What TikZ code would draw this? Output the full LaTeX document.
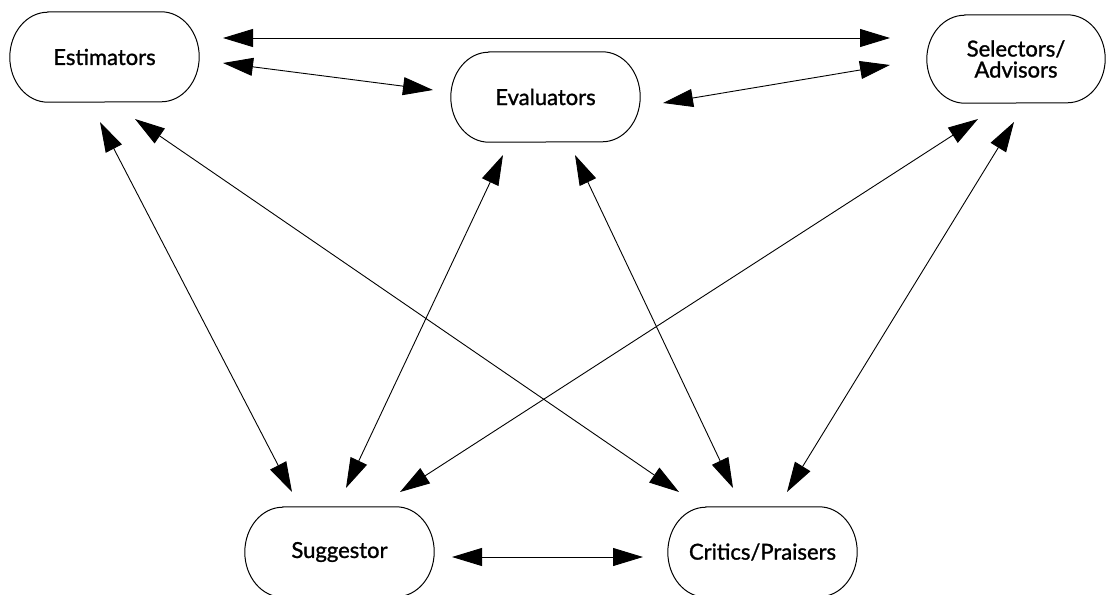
\documentclass[tikz,border=0pt]{standalone}
\usepackage{fontspec}
\setmainfont{Lato}[FakeBold=1.2]
\usetikzlibrary{arrows.meta}

% capsule outline around a named node: elliptical ends of radii #2 x #3
\newcommand\capsule[3]{%
  \draw[boxline] ([xshift=#2]#1.north west) -- ([xshift=-#2]#1.north east)
    arc[start angle=90, end angle=-90, x radius=#2, y radius=#3]
    -- ([xshift=#2]#1.south west)
    arc[start angle=270, end angle=90, x radius=#2, y radius=#3] -- cycle;}

\begin{document}
\begin{tikzpicture}[x=1pt, y=-1pt,
  role/.style={inner sep=0pt, minimum width=189pt, minimum height=90pt,
    align=center, font=\fontsize{22}{21}\selectfont},
  boxline/.style={line width=1pt, black},
  link/.style={line width=0.9pt,
    {Triangle[length=30pt,width=18pt]}-{Triangle[length=30pt,width=18pt]}}]

\useasboundingbox (0,0) rectangle (1107,594);

% roles
\node[role] (est) at (104.5,57) {Estimators};
\node[role] (eva) at (545.5,97) {Evaluators};
\node[role, minimum width=178pt, minimum height=88pt] (sel) at (1016,59) {Selectors/\\Advisors};
\node[role] (sug) at (339.5,552) {Suggestor};
\node[role] (cri) at (762.5,552) {Critics/Praisers};

\capsule{est}{38pt}{45pt}
\capsule{eva}{38pt}{45pt}
\capsule{sel}{38pt}{44pt}
\capsule{sug}{38pt}{45pt}
\capsule{cri}{38pt}{45pt}

% connector ends, each kept clear of its role
\coordinate (est-sel) at (223,38);
\coordinate (sel-est) at (890,38);
\coordinate (est-eva) at (223,63);
\coordinate (eva-est) at (433,90);
\coordinate (eva-sel) at (663,103);
\coordinate (sel-eva) at (890,65);
\coordinate (est-sug) at (100,122);
\coordinate (sug-est) at (292,492);
\coordinate (est-cri) at (135,119);
\coordinate (cri-est) at (679,492);
\coordinate (eva-sug) at (503,155);
\coordinate (sug-eva) at (346,488);
\coordinate (eva-cri) at (575,155);
\coordinate (cri-eva) at (733,488);
\coordinate (sel-sug) at (978,119);
\coordinate (sug-sel) at (400,492);
\coordinate (sel-cri) at (1014,122);
\coordinate (cri-sel) at (787,492);
\coordinate (sug-cri) at (452,557);
\coordinate (cri-sug) at (643,557);

% two-way links
\draw[link] (est-sel) -- (sel-est);
\draw[link] (est-eva) -- (eva-est);
\draw[link] (eva-sel) -- (sel-eva);
\draw[link] (est-sug) -- (sug-est);
\draw[link] (est-cri) -- (cri-est);
\draw[link] (eva-sug) -- (sug-eva);
\draw[link] (eva-cri) -- (cri-eva);
\draw[link] (sel-sug) -- (sug-sel);
\draw[link] (sel-cri) -- (cri-sel);
\draw[link] (sug-cri) -- (cri-sug);
\end{tikzpicture}
\end{document}
